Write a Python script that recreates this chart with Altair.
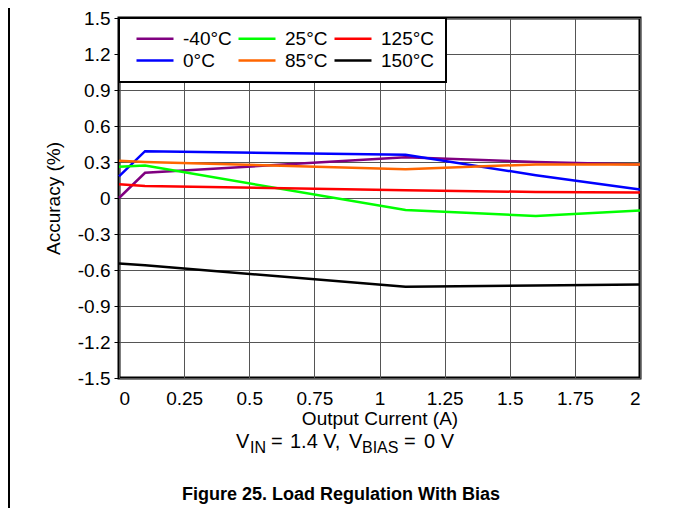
import altair as alt
import pandas as pd

FONT = "Liberation Sans"

# Output current (A) at which each curve was sampled
current = [0.0, 0.1, 1.1, 1.6, 2.0]

# Accuracy (%) per temperature
acc_m40 = [0.0, 0.21, 0.34, 0.30, 0.28]
acc_0 = [0.18, 0.39, 0.36, 0.19, 0.07]
acc_25 = [0.26, 0.27, -0.10, -0.15, -0.105]
acc_85 = [0.31, 0.30, 0.24, 0.28, 0.28]
acc_125 = [0.115, 0.10, 0.065, 0.05, 0.045]
acc_150 = [-0.545, -0.56, -0.74, -0.73, -0.72]

legend_order = ["-40°C", "0°C", "25°C", "85°C", "125°C", "150°C"]
legend_colors = ["#800080", "#0000ff", "#00ff00", "#ff6600", "#ff0000", "#000000"]

x_ticks = [0, 0.25, 0.5, 0.75, 1, 1.25, 1.5, 1.75, 2]
y_ticks = [-1.5, -1.2, -0.9, -0.6, -0.3, 0, 0.3, 0.6, 0.9, 1.2, 1.5]

series = {
    "-40°C": acc_m40,
    "0°C": acc_0,
    "25°C": acc_25,
    "85°C": acc_85,
    "125°C": acc_125,
    "150°C": acc_150,
}
rows = []
for name, vals in series.items():
    for c, a in zip(current, vals):
        rows.append({"series": name, "current": c, "acc": a})
df = pd.DataFrame(rows)

one = pd.DataFrame({"k": [0]})

lines = alt.Chart(df).mark_line(strokeWidth=2.5).encode(
    x=alt.X(
        "current:Q",
        scale=alt.Scale(domain=[0, 2], nice=False, zero=False),
        axis=alt.Axis(
            values=x_ticks,
            title="Output Current (A)",
            labelExpr="'' + datum.value",
            ticks=False,
            labelPadding=11,
            titlePadding=1,
        ),
    ),
    y=alt.Y(
        "acc:Q",
        scale=alt.Scale(domain=[-1.5, 1.5], nice=False, zero=False),
        axis=alt.Axis(
            values=y_ticks,
            title="Accuracy (%)",
            labelExpr="'' + datum.value",
            tickSize=5,
            labelPadding=4,
            titlePadding=14,
        ),
    ),
    color=alt.Color(
        "series:N",
        scale=alt.Scale(domain=legend_order, range=legend_colors),
        legend=alt.Legend(
            title=None,
            orient="none",
            legendX=0,
            legendY=0,
            columns=3,
            symbolType="M-1,0H4.286",
            symbolSize=196,
            symbolStrokeWidth=2.5,
            symbolOffset=4,
            labelOffset=30,
            columnPadding=0,
            rowPadding=2,
            padding=11,
            fillColor="white",
            strokeColor="black",
            labelFont=FONT,
            labelFontSize=19,
            labelColor="black",
        ),
    ),
)


def txt(s, x, y, size=20, weight="normal", align="left"):
    return alt.Chart(one).mark_text(
        text=s, font=FONT, fontSize=size, fontWeight=weight, align=align,
        baseline="alphabetic", color="black",
    ).encode(x=alt.value(x), y=alt.value(y))


border = alt.Chart(one).mark_rule(color="black", strokeWidth=2).encode(
    x=alt.value(-110), y=alt.value(-10), y2=alt.value(490)
)

# page coordinates minus plot origin (119, 18)
annot = [
    txt("V", 117, 430),
    txt("IN", 131, 435, size=16),
    txt("=", 152, 430),
    txt("1.4 V,", 171, 430),
    txt("V", 230, 430),
    txt("BIAS", 243, 435, size=16),
    txt("=", 285, 430),
    txt("0 V", 305, 430),
    txt("Figure 25. Load Regulation With Bias", 222, 482, size=18, weight="bold", align="center"),
]

chart = alt.layer(lines, border, *annot).properties(
    width=521,
    height=360,
    autosize=alt.AutoSizeParams(type="none"),
    padding={"left": 111, "top": 10, "right": 20, "bottom": 130},
).configure_view(
    stroke="black", strokeWidth=3
).configure_axis(
    labelFont=FONT, labelFontSize=19, labelColor="black",
    titleFont=FONT, titleFontSize=19, titleFontWeight="normal", titleColor="black",
    gridColor="#555555", gridWidth=1, gridOpacity=1,
    domain=False, tickColor="black",
).configure_legend(
    strokeWidth=2
)

chart.save("out.html", embed_options={"renderer": "svg", "actions": False})
